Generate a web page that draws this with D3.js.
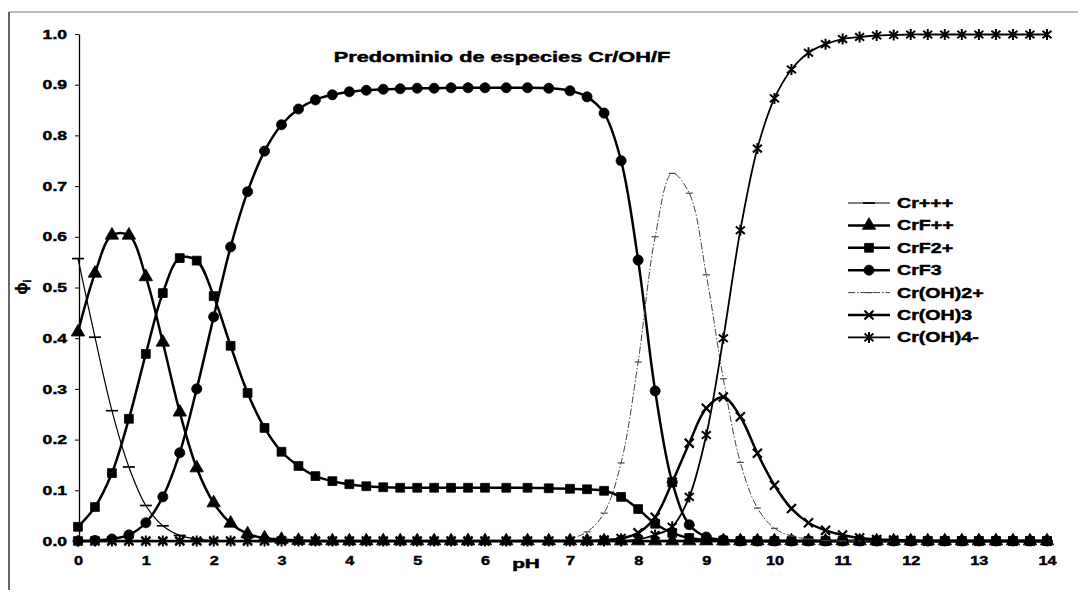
<!DOCTYPE html>
<html><head><meta charset="utf-8">
<script src="https://cdn.jsdelivr.net/npm/d3@7"></script>
<style>
body{margin:0;background:#fff}
svg{display:block}
text{font-family:"Liberation Sans",Arial,sans-serif;font-weight:bold;fill:#000;stroke:#000;stroke-width:0.45px}
</style>
</head><body>
<svg id="c" width="1080" height="597"></svg>
<script>
// ---------------- data ----------------
const pH = [0,0.25,0.5,0.75,1,1.25,1.5,1.75,2,2.25,2.5,2.75,3,3.25,3.5,3.75,4,4.25,4.5,4.75,5,5.25,5.5,5.75,6,6.25,6.5,6.75,7,7.25,7.5,7.75,8,8.25,8.5,8.75,9,9.25,9.5,9.75,10,10.25,10.5,10.75,11,11.25,11.5,11.75,12,12.25,12.5,12.75,13,13.25,13.5,13.75,14];
const xTicks = [0,1,2,3,4,5,6,7,8,9,10,11,12,13,14];
const yTicks = [0,0.1,0.2,0.3,0.4,0.5,0.6,0.7,0.8,0.9,1.0];
const seriesNames = ["Cr+++","CrF++","CrF2+","CrF3","Cr(OH)2+","Cr(OH)3","Cr(OH)4-"];
const titleText = "Predominio de especies Cr/OH/F";

const crIII = [0.557,0.402,0.257,0.146,0.070,0.030,0.011,0.004,
  0.001,0,0,0,0,0,0,0, 0,0,0,0,0,0,0,0, 0,0,0,0,0,0,0,0,
  0,0,0,0,0,0,0,0, 0,0,0,0,0,0,0,0, 0,0,0,0,0,0,0,0, 0];
const crF = [0.412,0.528,0.603,0.603,0.521,0.392,0.254,0.144,
  0.075,0.035,0.014,0.006,0.003,0.001,0,0, 0,0,0,0,0,0,0,0, 0,0,0,0,0,0,0,0,
  0,0,0,0,0,0,0,0, 0,0,0,0,0,0,0,0, 0,0,0,0,0,0,0,0, 0];
const crF2 = [0.028,0.067,0.134,0.241,0.369,0.489,0.558,0.553,
  0.483,0.385,0.292,0.223,0.176,0.148,0.128,0.118,
  0.112,0.108,0.106,0.105,0.105,0.105,0.105,0.105,
  0.105,0.105,0.105,0.104,0.103,0.102,0.099,0.087,
  0.063,0.034,0.016,0.006,0.002,0.001,0,0,
  0,0,0,0,0,0,0,0, 0,0,0,0,0,0,0,0, 0];
const crF3 = [0,0.001,0.004,0.012,0.036,0.087,0.174,0.300,
  0.442,0.580,0.689,0.769,0.821,0.852,0.870,0.880,
  0.886,0.889,0.891,0.892,0.893,0.893,0.894,0.894,
  0.894,0.894,0.894,0.893,0.888,0.876,0.844,0.750,
  0.554,0.296,0.116,0.032,0.008,0.002,0,0,
  0,0,0,0,0,0,0,0, 0,0,0,0,0,0,0,0, 0];
const crOH2 = [0,0,0,0,0,0,0,0, 0,0,0,0,0,0,0,0, 0,0,0,0,0,0,0,0,
  0,0,0,0.001,0.005,0.018,0.055,0.154,
  0.353,0.600,0.725,0.686,0.525,0.320,0.155,0.065,
  0.025,0.010,0.004,0.001,0,0,0,0,
  0,0,0,0,0,0,0,0, 0];
const crOH3 = [0,0,0,0,0,0,0,0, 0,0,0,0,0,0,0,0, 0,0,0,0,0,0,0,0,
  0,0,0,0,0,0,0.002,0.005,
  0.016,0.047,0.116,0.193,0.262,0.284,0.245,0.173,
  0.110,0.064,0.036,0.021,0.012,0.006,0.003,0.002,
  0.001,0,0,0,0,0,0,0, 0];
const crOH4 = [0,0,0,0,0,0,0,0, 0,0,0,0,0,0,0,0, 0,0,0,0,0,0,0,0,
  0,0,0,0,0,0,0,0,
  0.003,0.012,0.028,0.087,0.209,0.400,0.613,0.774,
  0.873,0.930,0.963,0.980,0.990,0.994,0.997,0.998,
  0.999,0.999,0.999,0.999,0.999,0.999,0.999,0.999, 0.999];

const seriesValues = [crIII, crF, crF2, crF3, crOH2, crOH3, crOH4];

// ---------------- styles ----------------
const seriesStyle = [
  {w:1.2, color:"#000", dash:null, marker:"hdash"},
  {w:2.5, color:"#000", dash:null, marker:"triangle"},
  {w:2.5, color:"#000", dash:null, marker:"square"},
  {w:2.5, color:"#000", dash:null, marker:"circle"},
  {w:1.0, color:"#444", dash:"7,2,1.5,2", marker:"sdash"},
  {w:2.5, color:"#000", dash:null, marker:"times"},
  {w:1.8, color:"#000", dash:null, marker:"asterisk"}
];

const svg = d3.select("#c");

// frame (scan border)
svg.append("line").attr("x1",9).attr("y1",12).attr("x2",1078).attr("y2",12)
  .attr("stroke","#777").attr("stroke-width",1);
svg.append("line").attr("x1",9).attr("y1",12).attr("x2",9).attr("y2",590)
  .attr("stroke","#333").attr("stroke-width",1.5);

const x = d3.scaleLinear().domain([0,6,7,14]).range([78,485,570,1047]);
const y = d3.scaleLinear().domain([0,1]).range([541,34]);

function stretch(sel, k){
  sel.each(function(){
    const L = this.getComputedTextLength();
    d3.select(this).attr("textLength", L*k).attr("lengthAdjust","spacingAndGlyphs");
  });
}

// axes
const gy = svg.append("g").attr("transform","translate(79,0)")
  .call(d3.axisLeft(y).tickValues(yTicks).tickFormat(d3.format(".1f")).tickSize(4).tickSizeOuter(0).tickPadding(8));
gy.selectAll("text").style("font-size","13px").style("font-family",'"Liberation Sans",Arial,sans-serif').style("font-weight","bold");
gy.select(".domain").attr("stroke","#000").attr("stroke-width",1.3);
gy.selectAll(".tick line").attr("stroke","#000");
stretch(gy.selectAll("text"), 1.35);

const gx = svg.append("g").attr("transform","translate(0,541)")
  .call(d3.axisBottom(x).tickValues(xTicks).tickFormat(d3.format("d")).tickSize(3).tickSizeOuter(0).tickPadding(12));
gx.selectAll("text").style("font-size","13px").style("font-family",'"Liberation Sans",Arial,sans-serif').style("font-weight","bold");
gx.select(".domain").attr("stroke","#000").attr("stroke-width",1.3);
gx.selectAll(".tick line").attr("stroke","#000");
stretch(gx.selectAll("text"), 1.25);

// marker shapes
const symPath = {
  triangle: d3.symbol(d3.symbolTriangle, 78)(),
  square: d3.symbol(d3.symbolSquare, 78)(),
  circle: d3.symbol(d3.symbolCircle, 80)(),
  times: "M-4.5,-4.5L4.5,4.5M-4.5,4.5L4.5,-4.5",
  asterisk: "M-4.5,-3.8L4.5,3.8M-4.5,3.8L4.5,-3.8M0,-5.5L0,5.5",
  hdash: "M-6,0L6,0",
  sdash: "M-3.5,0L3.5,0"
};
const filled = {triangle:true, square:true, circle:true};
const markerStroke = {times:2.2, asterisk:2, hdash:1.7, sdash:1.2};

function drawMarker(g, type, color){
  const p = g.append("path").attr("d", symPath[type]);
  if(filled[type]) p.attr("fill", color).attr("stroke", color).attr("stroke-width",0.8);
  else p.attr("fill","none").attr("stroke", color).attr("stroke-width", markerStroke[type]);
  return p;
}

const line = d3.line().x(d=>x(d[0])).y(d=>y(d[1])).curve(d3.curveCatmullRom.alpha(0.5));

seriesValues.forEach((vals, si)=>{
  const st = seriesStyle[si];
  const pts = pH.map((p,i)=>[p, vals[i]]);
  const g = svg.append("g");
  g.append("path").datum(pts).attr("d", line).attr("fill","none")
    .attr("stroke", st.color).attr("stroke-width", st.w)
    .attr("stroke-dasharray", st.dash);
  pts.forEach(d=>{
    const m = g.append("g").attr("transform", `translate(${x(d[0])},${y(d[1])})`);
    drawMarker(m, st.marker, st.color);
  });
});

// title
const tt = svg.append("text").attr("x",502).attr("y",62).attr("text-anchor","middle")
  .style("font-size","14px").text(titleText);
stretch(tt, 1.55);

// axis titles
const px = svg.append("text").attr("x",526).attr("y",568).attr("text-anchor","middle")
  .style("font-size","13px").text("pH");
stretch(px, 1.6);

const yl = svg.append("text").attr("transform","translate(27,287) rotate(-90)")
  .attr("text-anchor","middle").style("font-size","16px");
yl.append("tspan").text("ϕ");
yl.append("tspan").attr("dy",4).style("font-size","10px").text("i");

// legend
const legX1 = 848, legX2 = 890, legTx = 897, legY0 = 203, legDy = 22.4;
seriesNames.forEach((nm, si)=>{
  const st = seriesStyle[si];
  const cy = legY0 + si*legDy;
  const g = svg.append("g");
  g.append("line").attr("x1",legX1).attr("x2",legX2).attr("y1",cy).attr("y2",cy)
    .attr("stroke", st.color).attr("stroke-width", st.w).attr("stroke-dasharray", st.dash);
  const m = g.append("g").attr("transform",`translate(${(legX1+legX2)/2},${cy})`);
  drawMarker(m, st.marker, st.color);
  const t = g.append("text").attr("x",legTx).attr("y",cy+5).style("font-size","14px").text(nm);
  stretch(t, 1.4);
});
</script>
</body></html>
